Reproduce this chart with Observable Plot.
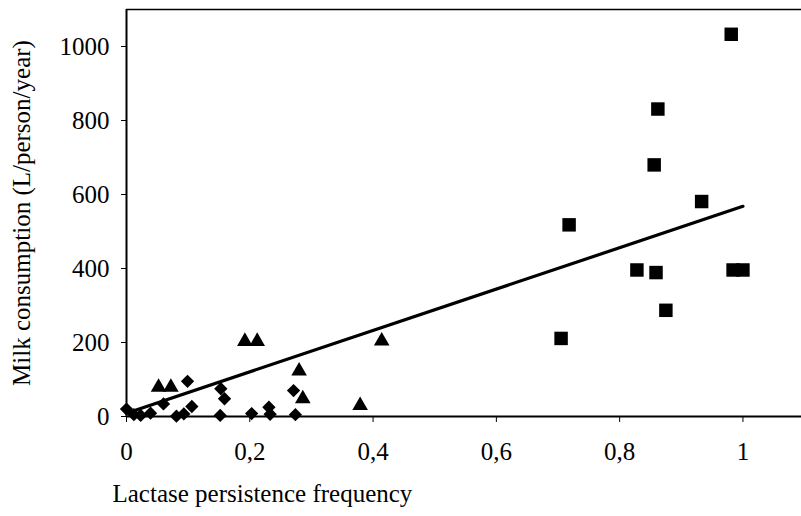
<!DOCTYPE html>
<html>
<head>
<meta charset="utf-8">
<script src="https://cdn.jsdelivr.net/npm/d3@7"></script>
<script src="https://cdn.jsdelivr.net/npm/@observablehq/plot@0.6"></script>
<style>
  html, body { margin: 0; padding: 0; background: #fff; }
</style>
</head>
<body>
<div id="chart"></div>
<script>
// Squares (high lactase persistence)
const squareX = [0.981, 0.862, 0.856, 0.933, 0.718, 0.828, 0.859, 0.984, 1.0, 0.875, 0.705];
const squareY = [1033, 831, 680, 581, 518, 396, 389, 396, 396, 287, 211];

// Triangles (intermediate)
const triangleX = [0.192, 0.212, 0.414, 0.280, 0.286, 0.379, 0.052, 0.072];
const triangleY = [203, 203, 204, 123, 48, 30, 79, 79];

// Diamonds (low)
const diamondX = [0.0, 0.012, 0.023, 0.039, 0.060, 0.081, 0.093, 0.106, 0.099, 0.152, 0.153, 0.159, 0.203, 0.231, 0.233, 0.271, 0.274];
const diamondY = [20, 5, 3, 9, 34, 1, 7, 27, 95, 3, 75, 48, 8, 25, 6, 70, 5];

// Trend line
const trendX = [0.0, 1.0];
const trendY = [9, 568];

const xTicks = [0, 0.2, 0.4, 0.6, 0.8, 1];
const yTicks = [0, 200, 400, 600, 800, 1000];
const xLabel = "Lactase persistence frequency";
const yLabel = "Milk consumption (L/person/year)";

const squares = squareX.map((x, i) => ({x, y: squareY[i]}));
const triangles = triangleX.map((x, i) => ({x, y: triangleY[i]}));
const diamonds = diamondX.map((x, i) => ({x, y: diamondY[i]}));
const trend = trendX.map((x, i) => ({x, y: trendY[i]}));

const chart = Plot.plot({
  width: 801,
  height: 516,
  marginLeft: 126,
  marginRight: 0,
  marginTop: 9,
  marginBottom: 100,
  style: {fontFamily: "'Liberation Serif', 'Times New Roman', serif", fontSize: "25px", color: "black", background: "white"},
  x: {domain: [0, 1.095], ticks: xTicks, tickFormat: d => String(d).replace(".", ","), tickSize: 6, tickPadding: 20, label: null},
  y: {domain: [0, 1100], ticks: yTicks, tickFormat: d => String(d), tickSize: 5, tickPadding: 12, label: null},
  marks: [
    Plot.ruleX([0], {stroke: "black", strokeWidth: 2}),
    Plot.ruleY([0], {stroke: "black", strokeWidth: 2}),
    Plot.ruleY([1100], {stroke: "black", strokeWidth: 1.5}),
    Plot.line(trend, {x: "x", y: "y", stroke: "black", strokeWidth: 3.2}),
    Plot.dot(diamonds, {x: "x", y: "y", symbol: "diamond2", r: 6, fill: "black", stroke: "none"}),
    Plot.dot(triangles, {x: "x", y: "y", symbol: "triangle", r: 5.8, fill: "black", stroke: "none"}),
    Plot.dot(squares, {x: "x", y: "y", symbol: "square", r: 7.6, fill: "black", stroke: "none"}),
    Plot.text([xLabel], {frameAnchor: "bottom-left", text: d => d, dx: -14, dy: 85, textAnchor: "start", fontSize: 25, fill: "black"}),
    Plot.text([yLabel], {frameAnchor: "left", text: d => d, dx: -105, rotate: -90, textAnchor: "middle", fontSize: 25, fill: "black"})
  ]
});
document.getElementById("chart").append(chart);
</script>
</body>
</html>
